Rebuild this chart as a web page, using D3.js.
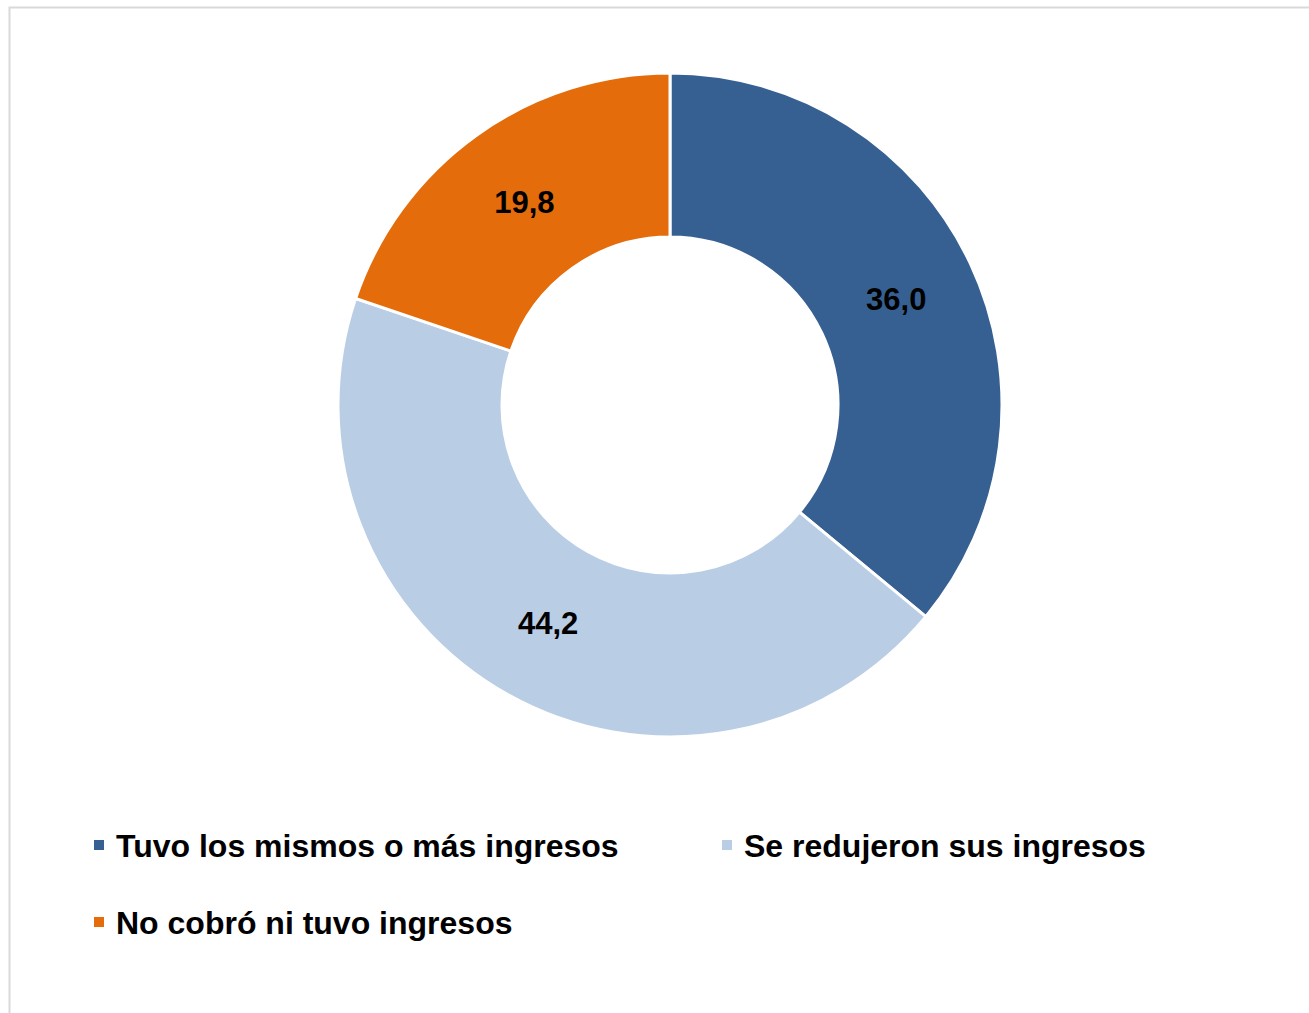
<!DOCTYPE html>
<html>
<head>
<meta charset="utf-8">
<script src="https://cdn.jsdelivr.net/npm/d3@7"></script>
<style>
  html, body { margin: 0; padding: 0; background: #ffffff; }
  svg { display: block; }
</style>
</head>
<body>
<svg id="chart" width="1309" height="1013"></svg>
<script>
const categories = ["Tuvo los mismos o más ingresos", "Se redujeron sus ingresos", "No cobró ni tuvo ingresos"];
const values = [36.0, 44.2, 19.8];
const valueLabels = ["36,0", "44,2", "19,8"];
const colors = ["#376092", "#B9CDE5", "#E46C0A"];

const svg = d3.select("#chart");

// chart area border (left & top visible)
svg.append("rect")
  .attr("x", 9.5).attr("y", 7.5)
  .attr("width", 1320).attr("height", 1020)
  .attr("fill", "#ffffff")
  .attr("stroke", "#d9d9d9").attr("stroke-width", 2);

const cx = 670, cy = 405, outerR = 332, innerR = 168;

const data = categories.map((c, i) => ({ cat: c, value: values[i], label: valueLabels[i], color: colors[i] }));

const pie = d3.pie().value(d => d.value).sort(null);
const arc = d3.arc().innerRadius(innerR).outerRadius(outerR);
const labelArc = d3.arc().innerRadius((innerR + outerR) / 2).outerRadius((innerR + outerR) / 2);

const g = svg.append("g").attr("transform", `translate(${cx},${cy})`);
const arcs = pie(data);

g.selectAll("path.slice")
  .data(arcs)
  .enter().append("path")
  .attr("class", "slice")
  .attr("d", arc)
  .attr("fill", d => d.data.color)
  .attr("stroke", "#ffffff")
  .attr("stroke-width", 3)
  .attr("stroke-linejoin", "miter");

g.selectAll("text.val")
  .data(arcs)
  .enter().append("text")
  .attr("class", "val")
  .attr("transform", d => `translate(${labelArc.centroid(d)})`)
  .attr("text-anchor", "middle")
  .attr("dy", "0.36em")
  .attr("font-family", "'Liberation Sans', Arial, sans-serif")
  .attr("font-weight", "bold")
  .attr("font-size", 31)
  .attr("fill", "#000000")
  .text(d => d.data.label);

// legend
const legendPos = [
  { x: 94, y: 845 },
  { x: 722, y: 845 },
  { x: 94, y: 922 }
];
const leg = svg.append("g");
const items = leg.selectAll("g.item")
  .data(data)
  .enter().append("g")
  .attr("class", "item")
  .attr("transform", (d, i) => `translate(${legendPos[i].x},${legendPos[i].y})`);

items.append("rect")
  .attr("x", 0).attr("y", -5)
  .attr("width", 10).attr("height", 10)
  .attr("fill", d => d.color);

items.append("text")
  .attr("x", 22)
  .attr("dy", "0.36em")
  .attr("font-family", "'Liberation Sans', Arial, sans-serif")
  .attr("font-weight", "bold")
  .attr("font-size", 32)
  .attr("fill", "#000000")
  .text(d => d.cat);
</script>
</body>
</html>
